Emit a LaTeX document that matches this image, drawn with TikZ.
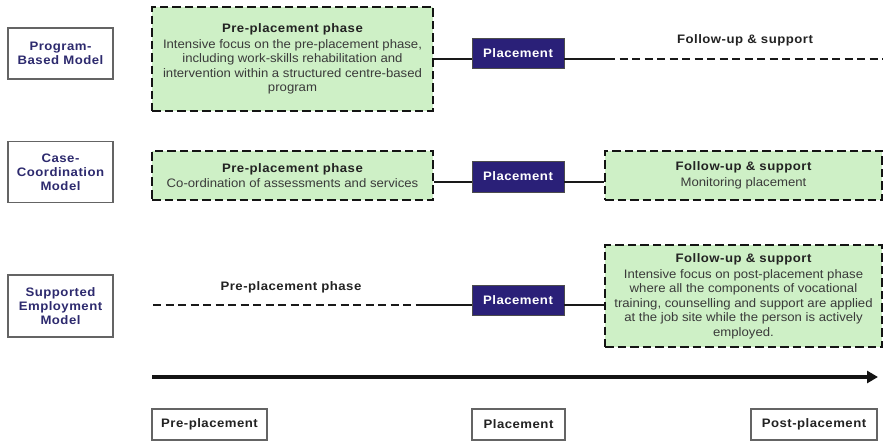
\documentclass[tikz,border=0pt]{standalone}
\usepackage{fontspec}
\setmainfont[FakeStretch=1.07]{Liberation Sans}
\newfontfamily\spfont[FakeStretch=1.07,LetterSpace=4]{Liberation Sans}
\usetikzlibrary{arrows.meta}

\definecolor{navy}{RGB}{42,32,120}
\definecolor{paleGreen}{RGB}{206,240,198}
\definecolor{modelText}{RGB}{45,42,110}
\definecolor{bodyGray}{RGB}{58,58,58}
\definecolor{titleGray}{RGB}{34,34,34}
\definecolor{frameGray}{RGB}{100,100,100}

\newcommand{\phasetitle}[1]{{\spfont\bfseries\color{titleGray}#1}}

\tikzset{
  model/.style={draw=frameGray, line width=1.6pt, fill=white, minimum width=105pt,
    align=center, inner sep=0pt, text=modelText,
    font=\spfont\bfseries\fontsize{12.3}{14}\selectfont},
  phase/.style={draw=black!92, line width=2.4pt, dash pattern=on 8.5pt off 4pt,
    fill=paleGreen, inner sep=0pt, align=center, text=bodyGray,
    font=\fontsize{12.3}{14.5}\selectfont},
  place/.style={draw=black!70, line width=0.8pt, fill=navy, text=white,
    minimum width=92pt, minimum height=30pt, inner sep=0pt,
    font=\spfont\bfseries\fontsize{12.3}{14}\selectfont},
  stage/.style={draw=frameGray, line width=1.3pt, fill=white, minimum height=31pt,
    inner sep=0pt, text=titleGray, font=\spfont\bfseries\fontsize{12.3}{14}\selectfont},
  label/.style={inner sep=0pt, text=titleGray,
    font=\spfont\bfseries\fontsize{12.3}{14}\selectfont},
  link/.style={line width=1.8pt, draw=black!90},
  dashlink/.style={link, line width=2.2pt, dash pattern=on 8pt off 4.5pt},
}

\begin{document}
\begin{tikzpicture}[x=1pt,y=-1pt]
\useasboundingbox (0,0) rectangle (883,441);

% model names on the left
\node[model, minimum height=51pt] (m1) at (60.5,53.5) {Program-\\Based Model};
\node[model, minimum height=61pt] (m2) at (60.5,172) {Case-\\Coordination\\Model};
\node[model, minimum height=62pt] (m3) at (60.5,306) {Supported\\Employment\\Model};

% row 1: program-based model
\node[phase, minimum width=281pt, minimum height=104pt] (g1) at (292.5,59)
  {\phasetitle{Pre-placement phase}\\[1.5pt]
   Intensive focus on the pre-placement phase,\\
   including work-skills rehabilitation and\\
   intervention within a structured centre-based\\
   program};
\node[place] (p1) at (518,53) {Placement};
\node[label] (f1) at (745,40) {Follow-up \& support};
\coordinate (d1) at (607,59);
\coordinate (e1) at (883,59);
\draw[link] (g1.east) -- (p1.west |- g1.east);
\draw[link] (p1.east |- g1.east) -- (d1);
\draw[dashlink] (d1) -- (e1);

% row 2: case-coordination model
\node[phase, minimum width=281pt, minimum height=49pt] (g2) at (292.5,175.5)
  {\phasetitle{Pre-placement phase}\\[1pt]
   Co-ordination of assessments and services};
\node[place, minimum height=31pt] (p2) at (518,176.5) {Placement};
\node[phase, minimum width=277pt, minimum height=49pt] (f2) at (743.5,175.5)
  {\phasetitle{Follow-up \& support}\\[1pt]
   Monitoring placement};
\coordinate (l2) at (0,182);
\draw[link] (g2.east |- l2) -- (p2.west |- l2);
\draw[link] (p2.east |- l2) -- (f2.west |- l2);

% row 3: supported employment model
\node[label] (g3) at (291,287) {Pre-placement phase};
\node[place] (p3) at (518,300) {Placement};
\node[phase, minimum width=277pt, minimum height=102pt] (f3) at (743.5,296)
  {\phasetitle{Follow-up \& support}\\[1.5pt]
   Intensive focus on post-placement phase\\
   where all the components of vocational\\
   training, counselling and support are applied\\
   at the job site while the person is actively\\
   employed.};
\coordinate (l3) at (0,305);
\coordinate (s3) at (153,305);
\coordinate (k3) at (423,305);
\draw[dashlink] (s3) -- (k3);
\draw[link] (k3) -- (p3.west |- l3);
\draw[link] (p3.east |- l3) -- (f3.west |- l3);

% time axis
\coordinate (a0) at (152,377);
\coordinate (a1) at (878,377);
\draw[line width=3.2pt, draw=black!92, -{Triangle[length=11pt,width=12pt]}] (a0) -- (a1);

% stage labels under the axis
\node[stage, minimum width=115pt] (s1) at (209.5,424.5) {Pre-placement};
\node[stage, minimum width=93pt] (s2) at (518.5,424.5) {Placement};
\node[stage, minimum width=126pt] (s4) at (814,424.5) {Post-placement};
\end{tikzpicture}
\end{document}
